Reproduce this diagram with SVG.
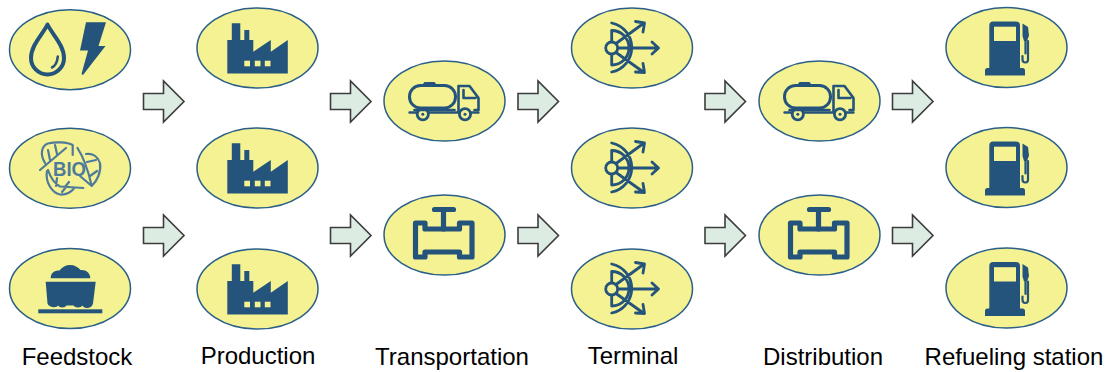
<svg xmlns="http://www.w3.org/2000/svg" xmlns:xlink="http://www.w3.org/1999/xlink" width="1108" height="372" viewBox="0 0 1108 372">
<style>
.oval{fill:#f4f292;stroke:#2a5f88;stroke-width:1.5}
.solid{fill:#24547b;stroke:none}
.line{fill:none;stroke:#24547b;stroke-linecap:round;stroke-linejoin:round}
.leaf{fill:none;stroke:#4f7a99;stroke-width:2.2;stroke-linecap:round;stroke-linejoin:round}
.win{fill:#f4f292}
.arrow{fill:#dcece3;stroke:#3c3c3c;stroke-width:1.6}
.label{font-family:"Liberation Sans",Arial,sans-serif;font-size:24px;fill:#000;text-anchor:middle}
</style>
<defs>
<ellipse id="oval" class="oval" rx="60.5" ry="40"/>
<polygon id="arr" class="arrow" points="-20.500,-8 -0.500,-8 -0.500,-20.500 20,0 -0.500,20.500 -0.500,8 -20.500,8"/>
<g id="factory">
<path class="solid" d="M-30,25.500V-8H-25.500V-24.700H-17V-8H-13V-18H-8V-8H-4V3.700L13.500,-8V3.700L30.500,-8V25.500Z"/>
<rect class="win" x="-13" y="12.700" width="5.700" height="5.600"/>
<rect class="win" x="-2.500" y="12.700" width="5.700" height="5.600"/>
<rect class="win" x="7.500" y="12.700" width="5.700" height="5.600"/>
</g>
<g id="truck">
<rect class="line" x="-35" y="-15.500" width="46" height="22.500" rx="11" stroke-width="3"/>
<path class="solid" d="M-22,-16.500L-20,-19H-10L-8,-16.500Z"/>
<path class="line" stroke-width="2.600" d="M14,-15H25L34,-3V9H30M14,-15V11M19,-11V-3H31"/>
<path class="line" stroke-width="2.600" d="M-30,9H10"/>
<path class="line" stroke-width="2.400" d="M-35,11.500H-28.500M-15,11.500H13.500M27,11.500H34"/>
<circle class="line" cx="-21.700" cy="13.300" r="5.600" stroke-width="2.800"/>
<circle class="line" cx="20.500" cy="13.300" r="5.600" stroke-width="2.800"/>
<circle class="solid" cx="-21.700" cy="13.300" r="1.500"/>
<circle class="solid" cx="20.500" cy="13.300" r="1.500"/>
</g>
<g id="pipe">
<path class="line" stroke-width="5.200" d="M-29,-12H-19.500V-6H15V-12H27.500V22H15V17H-19.500V22H-29Z"/>
<path class="line" stroke-width="5.200" d="M-10,-25.500H9M-1,-25.500V-6"/>
</g>
<g id="terminal">
<circle class="line" cx="-20.300" cy="0" r="6" stroke-width="2.800"/>
<path class="line" stroke-width="2.800" d="M-20.300,-25A25,25 0 0 1 -20.300,24M-20.300,-6.500V-17.500A17,17 0 0 1 -20.300,17V6.500M-14,0H26M20,-6L26.500,0L20,6M-16,-4.500L12,-25M3.500,-26.500L12.500,-25L11,-16M-16,4.500L12,24.500M11,15.500L12.500,24.500L3.500,24"/>
</g>
<g id="pump">
<path class="solid" d="M-17.700,20.500V-22Q-17.700,-26 -13.700,-26H8.700Q13,-26 13,-22V20.500H15.500Q18,20.500 18,23V28H-22V23Q-22,20.500 -19.500,20.500Z"/>
<rect class="win" x="-13" y="-20.800" width="22" height="14.300"/>
<path class="solid" d="M15.500,-24L21,-20.500L22,-12L20,-6.500H17L15.500,-11.500Z"/>
<path class="line" stroke-width="2.200" d="M18.500,-6V6M21,-6.500V12Q21,15 18.500,15Q15.500,15 15.500,12V8.500"/>
</g>
</defs>
<g id="connectors">
<use xlink:href="#arr" href="#arr" x="164" y="101.500"/>
<use xlink:href="#arr" href="#arr" x="164" y="235.500"/>
<use xlink:href="#arr" href="#arr" x="351" y="101.500"/>
<use xlink:href="#arr" href="#arr" x="351" y="235.500"/>
<use xlink:href="#arr" href="#arr" x="538.500" y="101.500"/>
<use xlink:href="#arr" href="#arr" x="538.500" y="235.500"/>
<use xlink:href="#arr" href="#arr" x="725.500" y="101.500"/>
<use xlink:href="#arr" href="#arr" x="725.500" y="235.500"/>
<use xlink:href="#arr" href="#arr" x="913" y="101.500"/>
<use xlink:href="#arr" href="#arr" x="913" y="235.500"/>
</g>
<g id="feedstock-energy">
<use xlink:href="#oval" href="#oval" x="70" y="49.700"/>
<path class="line" stroke-width="4" d="M47.500,24.500C43,34 31,45 31,58A16.500,16.500 0 0 0 64,58C64,45 52,34 47.500,24.500Z"/>
<path class="line" stroke-width="2.600" d="M52,67.500Q57,65 57.800,56.500"/>
<polygon class="solid" points="86,22.300 106,22.300 98.500,46 105.500,46 83,75 81.500,74 88,50.500 80,50.500"/>
</g>
<g id="feedstock-bio">
<use xlink:href="#oval" href="#oval" x="70" y="168.300"/>
<path class="leaf" d="M40,170L66,148M45,163C40,155 41,146 48,143.500C56,141.500 67,142 72.700,145V155M50,160L48,150M57,154L55,145"/>
<path class="leaf" d="M77.500,148C84,158 88,170 91.500,185M86,154C93,153 98,157 100,163C101.500,172 97,181 91.700,186L80,176M87,162L96,160M90,176L97,171"/>
<path class="leaf" d="M83.300,188L60,186.500Q52,182 48,170M47,171C45,182 52,193 60,194.500C66,195 71,192 74,188.500M57,178L56,186M65,187L69,182M62,192L66,187"/>
<text x="69.500" y="176.300" style="font-family:'Liberation Sans',Arial,sans-serif;font-size:21px;font-weight:bold;fill:#4f7a99;text-anchor:middle" textLength="33" lengthAdjust="spacingAndGlyphs">BIO</text>
</g>
<g id="feedstock-coal">
<use xlink:href="#oval" href="#oval" x="70" y="288.500"/>
<path class="solid" d="M50.700,278.300C50.700,273 54,270.500 59.500,270.500C62,267 66,265 70,265C74.500,265 78,267 80.500,270C86,269.500 90.300,273 90.300,278.300Z"/>
<path class="solid" d="M45.700,281.700H95.700L93,303.500C92,307 89.500,308 87,308C84.500,308 83,307 82.500,305.500C81,308 75,308 73.500,305.500H66.500C65,308 59.500,308 58,305.500C57,308 49,308 47.500,303.500Z"/>
<rect class="solid" x="38.300" y="309.300" width="64" height="4"/>
</g>
<g id="production-1"><use xlink:href="#oval" href="#oval" x="257.500" y="48"/><use xlink:href="#factory" href="#factory" x="257.300" y="48"/></g>
<g id="production-2"><use xlink:href="#oval" href="#oval" x="257.500" y="168"/><use xlink:href="#factory" href="#factory" x="257.300" y="168"/></g>
<g id="production-3"><use xlink:href="#oval" href="#oval" x="257.500" y="289"/><use xlink:href="#factory" href="#factory" x="257.300" y="289"/></g>
<g id="transport-truck"><use xlink:href="#oval" href="#oval" x="444.500" y="101"/><use xlink:href="#truck" href="#truck" x="444.500" y="101"/></g>
<g id="transport-pipe"><use xlink:href="#oval" href="#oval" x="444.500" y="235"/><use xlink:href="#pipe" href="#pipe" x="444.500" y="235"/></g>
<g id="terminal-1"><use xlink:href="#oval" href="#oval" x="632" y="48"/><use xlink:href="#terminal" href="#terminal" x="632" y="48"/></g>
<g id="terminal-2"><use xlink:href="#oval" href="#oval" x="632" y="168"/><use xlink:href="#terminal" href="#terminal" x="632" y="168"/></g>
<g id="terminal-3"><use xlink:href="#oval" href="#oval" x="632" y="289"/><use xlink:href="#terminal" href="#terminal" x="632" y="289"/></g>
<g id="distribution-truck"><use xlink:href="#oval" href="#oval" x="819.500" y="101"/><use xlink:href="#truck" href="#truck" x="819.500" y="101"/></g>
<g id="distribution-pipe"><use xlink:href="#oval" href="#oval" x="819.500" y="235"/><use xlink:href="#pipe" href="#pipe" x="819.500" y="235"/></g>
<g id="station-1"><use xlink:href="#oval" href="#oval" x="1006.500" y="47.500"/><use xlink:href="#pump" href="#pump" x="1007" y="47.500"/></g>
<g id="station-2"><use xlink:href="#oval" href="#oval" x="1006.500" y="167.500"/><use xlink:href="#pump" href="#pump" x="1007" y="167.500"/></g>
<g id="station-3"><use xlink:href="#oval" href="#oval" x="1006.500" y="288"/><use xlink:href="#pump" href="#pump" x="1007" y="288"/></g>
<g id="labels">
<text class="label" x="77" y="365">Feedstock</text>
<text class="label" x="258" y="364">Production</text>
<text class="label" x="452" y="365">Transportation</text>
<text class="label" x="633" y="364">Terminal</text>
<text class="label" x="823" y="365">Distribution</text>
<text class="label" x="1014" y="365">Refueling station</text>
</g>
</svg>
